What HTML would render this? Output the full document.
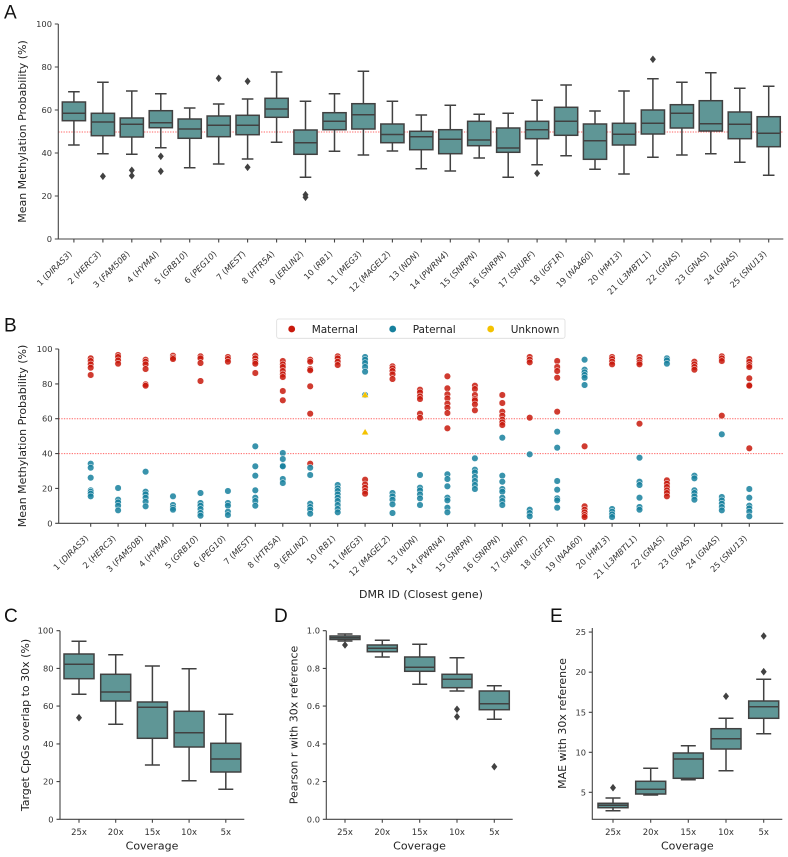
<!DOCTYPE html>
<html><head><meta charset="utf-8">
<style>
html,body{margin:0;padding:0;background:#fff;}
svg{display:block;}
text{font-family:"DejaVu Sans","Liberation Sans",sans-serif;fill:#333;}
.yt{font-size:8.3px;text-anchor:end;}
.xt{font-size:8.3px;text-anchor:end;}
.xt tspan{font-style:italic;}
.ct{font-size:8.5px;text-anchor:middle;}
.lab{font-size:11px;text-anchor:middle;fill:#222;}
.let{font-family:"Liberation Sans",sans-serif;font-size:19px;fill:#111;}
.lg{font-size:10.5px;fill:#222;}
.sp{fill:none;stroke:#444;stroke-width:1.1;}
.wh{fill:none;stroke:#414141;stroke-width:1.5;}
.bx rect{fill:#5f9696;stroke:#414141;stroke-width:1.5;}
.dot{fill:none;stroke:#ff4a4a;stroke-width:1;stroke-dasharray:1.3 1.3;opacity:.85;}
.m circle{fill:#c8190c;fill-opacity:.85;stroke:#fff;stroke-width:.5;}
.p circle{fill:#16809d;fill-opacity:.85;stroke:#fff;stroke-width:.5;}
</style></head>
<body>
<svg width="788" height="857" viewBox="0 0 788 857" xmlns="http://www.w3.org/2000/svg">
<defs><path id="dm" d="M0,-3.8L3,0L0,3.8L-3,0Z" fill="#414141"/></defs>

<!-- ================= PANEL A ================= -->
<text class="let" x="4" y="18.5">A</text>
<path class="dot" d="M58.3 132H783.3"/>
<path class="wh" d="M73.9 91.7V102M73.9 120.7V145M68.1 91.7H79.7M68.1 145H79.7
M102.9 82.3V113.3M102.9 135.7V153.7M97.1 82.3H108.7M97.1 153.7H108.7
M131.8 91V118M131.8 137V154.3M126 91H137.6M126 154.3H137.6
M160.8 93.7V110.7M160.8 127.7V147.7M155 93.7H166.6M155 147.7H166.6
M189.7 108V119M189.7 138.3V167.7M183.9 108H195.5M183.9 167.7H195.5
M218.7 104V116M218.7 136.7V164M212.9 104H224.5M212.9 164H224.5
M247.6 99V115.3M247.6 134.7V159M241.8 99H253.4M241.8 159H253.4
M276.6 72V98.3M276.6 117.3V142.3M270.8 72H282.4M270.8 142.3H282.4
M305.5 101.3V130M305.5 154.3V177.3M299.7 101.3H311.3M299.7 177.3H311.3
M334.5 93.7V112.7M334.5 129.7V151.3M328.7 93.7H340.3M328.7 151.3H340.3
M363.4 71.3V103.7M363.4 129V155M357.6 71.3H369.2M357.6 155H369.2
M392.4 101.3V124M392.4 142.7V151M386.6 101.3H398.2M386.6 151H398.2
M421.3 115V131.3M421.3 149.7V168.7M415.5 115H427.1M415.5 168.7H427.1
M450.3 105.3V129.7M450.3 153.7V171M444.5 105.3H456.1M444.5 171H456.1
M479.2 114.3V121.3M479.2 145.7V158M473.4 114.3H485M473.4 158H485
M508.2 113.3V128M508.2 152.3V177.3M502.4 113.3H514M502.4 177.3H514
M537.1 100.3V121.3M537.1 138.7V164.7M531.3 100.3H542.9M531.3 164.7H542.9
M566.1 85V107.3M566.1 135.3V155.7M560.3 85H571.9M560.3 155.7H571.9
M595 111V124M595 159.3V169.3M589.2 111H600.8M589.2 169.3H600.8
M624 91V123.3M624 145V174M618.2 91H629.8M618.2 174H629.8
M652.9 78.7V110M652.9 134V157.3M647.1 78.7H658.7M647.1 157.3H658.7
M681.9 82.3V104.7M681.9 128V155M676.1 82.3H687.7M676.1 155H687.7
M710.8 72.7V100.7M710.8 131V153.7M705 72.7H716.6M705 153.7H716.6
M739.8 88.3V112M739.8 138.7V162.3M734 88.3H745.6M734 162.3H745.6
M768.7 86.3V116.7M768.7 146.7V175.3M762.9 86.3H774.5M762.9 175.3H774.5"/>
<g class="bx">
<rect x="62.3" y="102" width="23.2" height="18.7"/>
<rect x="91.3" y="113.3" width="23.2" height="22.4"/>
<rect x="120.2" y="118" width="23.2" height="19"/>
<rect x="149.2" y="110.7" width="23.2" height="17"/>
<rect x="178.1" y="119" width="23.2" height="19.3"/>
<rect x="207.1" y="116" width="23.2" height="20.7"/>
<rect x="236" y="115.3" width="23.2" height="19.4"/>
<rect x="265" y="98.3" width="23.2" height="19"/>
<rect x="293.9" y="130" width="23.2" height="24.3"/>
<rect x="322.9" y="112.7" width="23.2" height="17"/>
<rect x="351.8" y="103.7" width="23.2" height="25.3"/>
<rect x="380.8" y="124" width="23.2" height="18.7"/>
<rect x="409.7" y="131.3" width="23.2" height="18.4"/>
<rect x="438.7" y="129.7" width="23.2" height="24"/>
<rect x="467.6" y="121.3" width="23.2" height="24.4"/>
<rect x="496.6" y="128" width="23.2" height="24.3"/>
<rect x="525.5" y="121.3" width="23.2" height="17.4"/>
<rect x="554.5" y="107.3" width="23.2" height="28"/>
<rect x="583.4" y="124" width="23.2" height="35.3"/>
<rect x="612.4" y="123.3" width="23.2" height="21.7"/>
<rect x="641.3" y="110" width="23.2" height="24"/>
<rect x="670.3" y="104.7" width="23.2" height="23.3"/>
<rect x="699.2" y="100.7" width="23.2" height="30.3"/>
<rect x="728.2" y="112" width="23.2" height="26.7"/>
<rect x="757.1" y="116.7" width="23.2" height="30"/>
</g>
<path class="wh" d="M62.3 113.3h23.2M91.3 122h23.2M120.2 124.3h23.2M149.2 122.7h23.2M178.1 129h23.2M207.1 125.3h23.2M236 125.3h23.2M265 109h23.2M293.9 142.7h23.2M322.9 121.3h23.2M351.8 114.7h23.2M380.8 134.5h23.2M409.7 136.7h23.2M438.7 139.3h23.2M467.6 140h23.2M496.6 148h23.2M525.5 129.7h23.2M554.5 121.3h23.2M583.4 140.7h23.2M612.4 134.3h23.2M641.3 123.3h23.2M670.3 113.3h23.2M699.2 123.7h23.2M728.2 124.3h23.2M757.1 133.3h23.2"/>
<use href="#dm" x="102.9" y="176.3"/><use href="#dm" x="131.8" y="170.3"/><use href="#dm" x="131.8" y="175.7"/>
<use href="#dm" x="160.8" y="156.3"/><use href="#dm" x="160.8" y="171.3"/><use href="#dm" x="218.7" y="78.3"/>
<use href="#dm" x="247.6" y="81.3"/><use href="#dm" x="247.6" y="167.3"/><use href="#dm" x="305.5" y="194.7"/>
<use href="#dm" x="305.5" y="197.3"/><use href="#dm" x="537.1" y="173.3"/><use href="#dm" x="652.9" y="59.3"/>
<path class="sp" d="M58.3 24V239H783.3M54.8 24h3.5M54.8 67h3.5M54.8 110h3.5M54.8 153h3.5M54.8 196h3.5M54.8 239h3.5
M73.9 239v3.5M102.9 239v3.5M131.8 239v3.5M160.8 239v3.5M189.7 239v3.5M218.7 239v3.5M247.6 239v3.5M276.6 239v3.5M305.5 239v3.5M334.5 239v3.5M363.4 239v3.5M392.4 239v3.5M421.3 239v3.5M450.3 239v3.5M479.2 239v3.5M508.2 239v3.5M537.1 239v3.5M566.1 239v3.5M595 239v3.5M624 239v3.5M652.9 239v3.5M681.9 239v3.5M710.8 239v3.5M739.8 239v3.5M768.7 239v3.5"/>
<text class="yt" x="52" y="27">100</text><text class="yt" x="52" y="70">80</text><text class="yt" x="52" y="113">60</text>
<text class="yt" x="52" y="156">40</text><text class="yt" x="52" y="199">20</text><text class="yt" x="52" y="242">0</text>
<text class="lab" transform="translate(26,131.5) rotate(-90)">Mean Methylation Probability (%)</text>
<text class="xt" transform="translate(72.4,254.5) rotate(-45)">1 (<tspan>DIRAS3</tspan>)</text>
<text class="xt" transform="translate(101.4,254.5) rotate(-45)">2 (<tspan>HERC3</tspan>)</text>
<text class="xt" transform="translate(130.3,254.5) rotate(-45)">3 (<tspan>FAM50B</tspan>)</text>
<text class="xt" transform="translate(159.3,254.5) rotate(-45)">4 (<tspan>HYMAI</tspan>)</text>
<text class="xt" transform="translate(188.2,254.5) rotate(-45)">5 (<tspan>GRB10</tspan>)</text>
<text class="xt" transform="translate(217.2,254.5) rotate(-45)">6 (<tspan>PEG10</tspan>)</text>
<text class="xt" transform="translate(246.1,254.5) rotate(-45)">7 (<tspan>MEST</tspan>)</text>
<text class="xt" transform="translate(275.1,254.5) rotate(-45)">8 (<tspan>HTR5A</tspan>)</text>
<text class="xt" transform="translate(304,254.5) rotate(-45)">9 (<tspan>ERLIN2</tspan>)</text>
<text class="xt" transform="translate(333,254.5) rotate(-45)">10 (<tspan>RB1</tspan>)</text>
<text class="xt" transform="translate(361.9,254.5) rotate(-45)">11 (<tspan>MEG3</tspan>)</text>
<text class="xt" transform="translate(390.9,254.5) rotate(-45)">12 (<tspan>MAGEL2</tspan>)</text>
<text class="xt" transform="translate(419.8,254.5) rotate(-45)">13 (<tspan>NDN</tspan>)</text>
<text class="xt" transform="translate(448.8,254.5) rotate(-45)">14 (<tspan>PWRN4</tspan>)</text>
<text class="xt" transform="translate(477.7,254.5) rotate(-45)">15 (<tspan>SNRPN</tspan>)</text>
<text class="xt" transform="translate(506.7,254.5) rotate(-45)">16 (<tspan>SNRPN</tspan>)</text>
<text class="xt" transform="translate(535.6,254.5) rotate(-45)">17 (<tspan>SNURF</tspan>)</text>
<text class="xt" transform="translate(564.6,254.5) rotate(-45)">18 (<tspan>IGF1R</tspan>)</text>
<text class="xt" transform="translate(593.5,254.5) rotate(-45)">19 (<tspan>NAA60</tspan>)</text>
<text class="xt" transform="translate(622.5,254.5) rotate(-45)">20 (<tspan>HM13</tspan>)</text>
<text class="xt" transform="translate(651.4,254.5) rotate(-45)">21 (<tspan>L3MBTL1</tspan>)</text>
<text class="xt" transform="translate(680.4,254.5) rotate(-45)">22 (<tspan>GNAS</tspan>)</text>
<text class="xt" transform="translate(709.3,254.5) rotate(-45)">23 (<tspan>GNAS</tspan>)</text>
<text class="xt" transform="translate(738.3,254.5) rotate(-45)">24 (<tspan>GNAS</tspan>)</text>
<text class="xt" transform="translate(767.2,254.5) rotate(-45)">25 (<tspan>SNU13</tspan>)</text>

<!-- ================= PANEL B ================= -->
<text class="let" x="4" y="331.5">B</text>
<rect x="276.7" y="319" width="288.3" height="19.3" rx="2" fill="#fff" stroke="#dcdcdc" stroke-width="0.8"/>
<circle cx="291.7" cy="329" r="3.4" fill="#c8190c"/>
<text class="lg" x="311.7" y="332.8">Maternal</text>
<circle cx="392.7" cy="329" r="3.4" fill="#16809d"/>
<text class="lg" x="412.7" y="332.8">Paternal</text>
<circle cx="490.7" cy="329" r="3.4" fill="#f4c200"/>
<text class="lg" x="510.7" y="332.8">Unknown</text>

<path class="dot" d="M58.7 418.7H783.3M58.7 453.6H783.3"/>

<g class="m">
<circle cx="90.7" cy="358.3" r="3.3"/><circle cx="90.7" cy="361" r="3.3"/><circle cx="90.7" cy="364.3" r="3.3"/><circle cx="90.7" cy="367.7" r="3.3"/><circle cx="90.7" cy="375" r="3.3"/>
<circle cx="118.1" cy="355" r="3.3"/><circle cx="118.1" cy="357" r="3.3"/><circle cx="118.1" cy="360.3" r="3.3"/><circle cx="118.1" cy="363.7" r="3.3"/>
<circle cx="145.6" cy="359.7" r="3.3"/><circle cx="145.6" cy="361.7" r="3.3"/><circle cx="145.6" cy="364.3" r="3.3"/><circle cx="145.6" cy="369" r="3.3"/><circle cx="145.6" cy="384.3" r="3.3"/><circle cx="145.6" cy="385.7" r="3.3"/>
<circle cx="173" cy="355.7" r="3.3"/><circle cx="173" cy="357.7" r="3.3"/><circle cx="173" cy="359" r="3.3"/>
<circle cx="200.5" cy="356.3" r="3.3"/><circle cx="200.5" cy="358.3" r="3.3"/><circle cx="200.5" cy="363" r="3.3"/><circle cx="200.5" cy="381" r="3.3"/>
<circle cx="227.9" cy="357" r="3.3"/><circle cx="227.9" cy="359" r="3.3"/><circle cx="227.9" cy="361.7" r="3.3"/>
<circle cx="255.3" cy="355.7" r="3.3"/><circle cx="255.3" cy="358.3" r="3.3"/><circle cx="255.3" cy="361.7" r="3.3"/><circle cx="255.3" cy="363.7" r="3.3"/><circle cx="255.3" cy="373" r="3.3"/>
<circle cx="282.8" cy="361" r="3.3"/><circle cx="282.8" cy="364.3" r="3.3"/><circle cx="282.8" cy="367" r="3.3"/><circle cx="282.8" cy="371" r="3.3"/><circle cx="282.8" cy="374.3" r="3.3"/><circle cx="282.8" cy="377" r="3.3"/><circle cx="282.8" cy="391" r="3.3"/><circle cx="282.8" cy="400.3" r="3.3"/>
<circle cx="310.2" cy="359.7" r="3.3"/><circle cx="310.2" cy="361.7" r="3.3"/><circle cx="310.2" cy="369" r="3.3"/><circle cx="310.2" cy="370.3" r="3.3"/><circle cx="310.2" cy="386.3" r="3.3"/><circle cx="310.2" cy="413.7" r="3.3"/><circle cx="310.2" cy="463.7" r="3.3"/>
<circle cx="337.7" cy="356.3" r="3.3"/><circle cx="337.7" cy="358.3" r="3.3"/><circle cx="337.7" cy="361.7" r="3.3"/><circle cx="337.7" cy="365" r="3.3"/>
<circle cx="365.1" cy="479.7" r="3.3"/><circle cx="365.1" cy="484.3" r="3.3"/><circle cx="365.1" cy="487.7" r="3.3"/><circle cx="365.1" cy="491" r="3.3"/><circle cx="365.1" cy="493.7" r="3.3"/>
<circle cx="392.5" cy="366.3" r="3.3"/><circle cx="392.5" cy="368.3" r="3.3"/><circle cx="392.5" cy="371" r="3.3"/><circle cx="392.5" cy="374.3" r="3.3"/><circle cx="392.5" cy="379" r="3.3"/>
<circle cx="420" cy="389.7" r="3.3"/><circle cx="420" cy="392.3" r="3.3"/><circle cx="420" cy="396.3" r="3.3"/><circle cx="420" cy="399" r="3.3"/><circle cx="420" cy="413.7" r="3.3"/><circle cx="420" cy="417.7" r="3.3"/>
<circle cx="447.4" cy="376.3" r="3.3"/><circle cx="447.4" cy="388.3" r="3.3"/><circle cx="447.4" cy="394.3" r="3.3"/><circle cx="447.4" cy="398.3" r="3.3"/><circle cx="447.4" cy="403.7" r="3.3"/><circle cx="447.4" cy="407.7" r="3.3"/><circle cx="447.4" cy="413" r="3.3"/><circle cx="447.4" cy="428.3" r="3.3"/>
<circle cx="474.9" cy="385.7" r="3.3"/><circle cx="474.9" cy="389" r="3.3"/><circle cx="474.9" cy="395" r="3.3"/><circle cx="474.9" cy="399" r="3.3"/><circle cx="474.9" cy="400.3" r="3.3"/><circle cx="474.9" cy="404.3" r="3.3"/><circle cx="474.9" cy="410.3" r="3.3"/>
<circle cx="502.3" cy="395" r="3.3"/><circle cx="502.3" cy="403" r="3.3"/><circle cx="502.3" cy="411.7" r="3.3"/><circle cx="502.3" cy="415.7" r="3.3"/><circle cx="502.3" cy="419.7" r="3.3"/><circle cx="502.3" cy="422.3" r="3.3"/><circle cx="502.3" cy="425" r="3.3"/>
<circle cx="529.7" cy="357" r="3.3"/><circle cx="529.7" cy="359.7" r="3.3"/><circle cx="529.7" cy="362.3" r="3.3"/><circle cx="529.7" cy="417.7" r="3.3"/>
<circle cx="557.2" cy="361" r="3.3"/><circle cx="557.2" cy="367" r="3.3"/><circle cx="557.2" cy="371" r="3.3"/><circle cx="557.2" cy="377.7" r="3.3"/><circle cx="557.2" cy="411.7" r="3.3"/>
<circle cx="584.6" cy="446.3" r="3.3"/><circle cx="584.6" cy="506.3" r="3.3"/><circle cx="584.6" cy="509.7" r="3.3"/><circle cx="584.6" cy="512.3" r="3.3"/><circle cx="584.6" cy="515" r="3.3"/><circle cx="584.6" cy="517" r="3.3"/>
<circle cx="612.1" cy="357" r="3.3"/><circle cx="612.1" cy="359" r="3.3"/><circle cx="612.1" cy="361.7" r="3.3"/><circle cx="612.1" cy="364.3" r="3.3"/>
<circle cx="639.5" cy="357" r="3.3"/><circle cx="639.5" cy="359.7" r="3.3"/><circle cx="639.5" cy="362.3" r="3.3"/><circle cx="639.5" cy="364.3" r="3.3"/><circle cx="639.5" cy="423.7" r="3.3"/>
<circle cx="666.9" cy="480.3" r="3.3"/><circle cx="666.9" cy="483.7" r="3.3"/><circle cx="666.9" cy="487" r="3.3"/><circle cx="666.9" cy="490.3" r="3.3"/><circle cx="666.9" cy="493" r="3.3"/><circle cx="666.9" cy="496.3" r="3.3"/>
<circle cx="694.4" cy="361.7" r="3.3"/><circle cx="694.4" cy="364.3" r="3.3"/><circle cx="694.4" cy="367" r="3.3"/><circle cx="694.4" cy="369.7" r="3.3"/>
<circle cx="721.8" cy="356.3" r="3.3"/><circle cx="721.8" cy="358.3" r="3.3"/><circle cx="721.8" cy="361" r="3.3"/><circle cx="721.8" cy="415.7" r="3.3"/>
<circle cx="749.3" cy="359" r="3.3"/><circle cx="749.3" cy="361.7" r="3.3"/><circle cx="749.3" cy="365" r="3.3"/><circle cx="749.3" cy="367" r="3.3"/><circle cx="749.3" cy="378.3" r="3.3"/><circle cx="749.3" cy="385" r="3.3"/><circle cx="749.3" cy="385.7" r="3.3"/><circle cx="749.3" cy="448.3" r="3.3"/>
</g>
<g class="p">
<circle cx="90.7" cy="463.7" r="3.3"/><circle cx="90.7" cy="467.7" r="3.3"/><circle cx="90.7" cy="477.7" r="3.3"/><circle cx="90.7" cy="490.3" r="3.3"/><circle cx="90.7" cy="491.7" r="3.3"/><circle cx="90.7" cy="493.7" r="3.3"/><circle cx="90.7" cy="496.3" r="3.3"/>
<circle cx="118.1" cy="488" r="3.3"/><circle cx="118.1" cy="499.7" r="3.3"/><circle cx="118.1" cy="502.3" r="3.3"/><circle cx="118.1" cy="505.7" r="3.3"/><circle cx="118.1" cy="510.3" r="3.3"/>
<circle cx="145.6" cy="471.7" r="3.3"/><circle cx="145.6" cy="491.7" r="3.3"/><circle cx="145.6" cy="494.3" r="3.3"/><circle cx="145.6" cy="497.7" r="3.3"/><circle cx="145.6" cy="501.7" r="3.3"/><circle cx="145.6" cy="506.3" r="3.3"/>
<circle cx="173" cy="496.3" r="3.3"/><circle cx="173" cy="505" r="3.3"/><circle cx="173" cy="507.7" r="3.3"/><circle cx="173" cy="509.7" r="3.3"/>
<circle cx="200.5" cy="493" r="3.3"/><circle cx="200.5" cy="503" r="3.3"/><circle cx="200.5" cy="505.7" r="3.3"/><circle cx="200.5" cy="509" r="3.3"/><circle cx="200.5" cy="513" r="3.3"/><circle cx="200.5" cy="515.7" r="3.3"/>
<circle cx="227.9" cy="491" r="3.3"/><circle cx="227.9" cy="503" r="3.3"/><circle cx="227.9" cy="505.7" r="3.3"/><circle cx="227.9" cy="511.7" r="3.3"/><circle cx="227.9" cy="515" r="3.3"/>
<circle cx="255.3" cy="446.3" r="3.3"/><circle cx="255.3" cy="466.3" r="3.3"/><circle cx="255.3" cy="475.7" r="3.3"/><circle cx="255.3" cy="490.3" r="3.3"/><circle cx="255.3" cy="497.7" r="3.3"/><circle cx="255.3" cy="501" r="3.3"/><circle cx="255.3" cy="505.7" r="3.3"/>
<circle cx="282.8" cy="453" r="3.3"/><circle cx="282.8" cy="459" r="3.3"/><circle cx="282.8" cy="465.7" r="3.3"/><circle cx="282.8" cy="466.3" r="3.3"/><circle cx="282.8" cy="479" r="3.3"/><circle cx="282.8" cy="483" r="3.3"/>
<circle cx="310.2" cy="467.7" r="3.3"/><circle cx="310.2" cy="475" r="3.3"/><circle cx="310.2" cy="503.7" r="3.3"/><circle cx="310.2" cy="507" r="3.3"/><circle cx="310.2" cy="509.7" r="3.3"/><circle cx="310.2" cy="513.7" r="3.3"/>
<circle cx="337.7" cy="485" r="3.3"/><circle cx="337.7" cy="488.3" r="3.3"/><circle cx="337.7" cy="491" r="3.3"/><circle cx="337.7" cy="494.3" r="3.3"/><circle cx="337.7" cy="497.7" r="3.3"/><circle cx="337.7" cy="501" r="3.3"/><circle cx="337.7" cy="505" r="3.3"/><circle cx="337.7" cy="509" r="3.3"/><circle cx="337.7" cy="512.3" r="3.3"/>
<circle cx="365.1" cy="357" r="3.3"/><circle cx="365.1" cy="359.7" r="3.3"/><circle cx="365.1" cy="363" r="3.3"/><circle cx="365.1" cy="367" r="3.3"/><circle cx="365.1" cy="371.7" r="3.3"/><circle cx="365.1" cy="395" r="3.3"/>
<circle cx="392.5" cy="493" r="3.3"/><circle cx="392.5" cy="496.3" r="3.3"/><circle cx="392.5" cy="499.7" r="3.3"/><circle cx="392.5" cy="504.3" r="3.3"/><circle cx="392.5" cy="513" r="3.3"/>
<circle cx="420" cy="475" r="3.3"/><circle cx="420" cy="487.7" r="3.3"/><circle cx="420" cy="490.3" r="3.3"/><circle cx="420" cy="494.3" r="3.3"/><circle cx="420" cy="498.3" r="3.3"/><circle cx="420" cy="505" r="3.3"/>
<circle cx="447.4" cy="474.3" r="3.3"/><circle cx="447.4" cy="479" r="3.3"/><circle cx="447.4" cy="486.3" r="3.3"/><circle cx="447.4" cy="497.7" r="3.3"/><circle cx="447.4" cy="500.3" r="3.3"/><circle cx="447.4" cy="507.7" r="3.3"/><circle cx="447.4" cy="512.3" r="3.3"/>
<circle cx="474.9" cy="458.3" r="3.3"/><circle cx="474.9" cy="469.7" r="3.3"/><circle cx="474.9" cy="472.3" r="3.3"/><circle cx="474.9" cy="477" r="3.3"/><circle cx="474.9" cy="481" r="3.3"/><circle cx="474.9" cy="485" r="3.3"/><circle cx="474.9" cy="489" r="3.3"/>
<circle cx="502.3" cy="437.7" r="3.3"/><circle cx="502.3" cy="475.7" r="3.3"/><circle cx="502.3" cy="481.7" r="3.3"/><circle cx="502.3" cy="489" r="3.3"/><circle cx="502.3" cy="491.7" r="3.3"/><circle cx="502.3" cy="497.7" r="3.3"/><circle cx="502.3" cy="501" r="3.3"/><circle cx="502.3" cy="505" r="3.3"/>
<circle cx="529.7" cy="454.3" r="3.3"/><circle cx="529.7" cy="509.7" r="3.3"/><circle cx="529.7" cy="513" r="3.3"/><circle cx="529.7" cy="516.3" r="3.3"/>
<circle cx="557.2" cy="431.7" r="3.3"/><circle cx="557.2" cy="447.7" r="3.3"/><circle cx="557.2" cy="481" r="3.3"/><circle cx="557.2" cy="489.7" r="3.3"/><circle cx="557.2" cy="498.3" r="3.3"/><circle cx="557.2" cy="500.3" r="3.3"/><circle cx="557.2" cy="507.7" r="3.3"/>
<circle cx="584.6" cy="359.7" r="3.3"/><circle cx="584.6" cy="369.7" r="3.3"/><circle cx="584.6" cy="372.3" r="3.3"/><circle cx="584.6" cy="375" r="3.3"/><circle cx="584.6" cy="377.7" r="3.3"/><circle cx="584.6" cy="385" r="3.3"/>
<circle cx="612.1" cy="509" r="3.3"/><circle cx="612.1" cy="511.7" r="3.3"/><circle cx="612.1" cy="514.3" r="3.3"/><circle cx="612.1" cy="517" r="3.3"/>
<circle cx="639.5" cy="457.7" r="3.3"/><circle cx="639.5" cy="481.7" r="3.3"/><circle cx="639.5" cy="485" r="3.3"/><circle cx="639.5" cy="497.7" r="3.3"/><circle cx="639.5" cy="507" r="3.3"/><circle cx="639.5" cy="509.7" r="3.3"/>
<circle cx="666.9" cy="358.3" r="3.3"/><circle cx="666.9" cy="360.3" r="3.3"/><circle cx="666.9" cy="363.7" r="3.3"/>
<circle cx="694.4" cy="475.7" r="3.3"/><circle cx="694.4" cy="478.3" r="3.3"/><circle cx="694.4" cy="490.3" r="3.3"/><circle cx="694.4" cy="493" r="3.3"/><circle cx="694.4" cy="496.3" r="3.3"/><circle cx="694.4" cy="499.7" r="3.3"/>
<circle cx="721.8" cy="434.3" r="3.3"/><circle cx="721.8" cy="497" r="3.3"/><circle cx="721.8" cy="500.3" r="3.3"/><circle cx="721.8" cy="503.7" r="3.3"/><circle cx="721.8" cy="507" r="3.3"/><circle cx="721.8" cy="510.3" r="3.3"/>
<circle cx="749.3" cy="489" r="3.3"/><circle cx="749.3" cy="497.7" r="3.3"/><circle cx="749.3" cy="505.7" r="3.3"/><circle cx="749.3" cy="508.3" r="3.3"/><circle cx="749.3" cy="511.7" r="3.3"/><circle cx="749.3" cy="516.3" r="3.3"/>
</g>
<polygon points="365.1,391.3 368.7,397.5 361.5,397.5" fill="#f4c200" stroke="#fff" stroke-width="0.4"/>
<polygon points="365.1,428.6 368.7,434.8 361.5,434.8" fill="#f4c200" stroke="#fff" stroke-width="0.4"/>

<path class="sp" d="M58.7 349V523.3H783.3M55.2 349h3.5M55.2 383.9h3.5M55.2 418.7h3.5M55.2 453.6h3.5M55.2 488.4h3.5M55.2 523.3h3.5
M90.7 523.3v3.5M118.1 523.3v3.5M145.6 523.3v3.5M173 523.3v3.5M200.5 523.3v3.5M227.9 523.3v3.5M255.3 523.3v3.5M282.8 523.3v3.5M310.2 523.3v3.5M337.7 523.3v3.5M365.1 523.3v3.5M392.5 523.3v3.5M420 523.3v3.5M447.4 523.3v3.5M474.9 523.3v3.5M502.3 523.3v3.5M529.7 523.3v3.5M557.2 523.3v3.5M584.6 523.3v3.5M612.1 523.3v3.5M639.5 523.3v3.5M666.9 523.3v3.5M694.4 523.3v3.5M721.8 523.3v3.5M749.3 523.3v3.5"/>
<text class="yt" x="52.5" y="352">100</text><text class="yt" x="52.5" y="386.9">80</text><text class="yt" x="52.5" y="421.7">60</text>
<text class="yt" x="52.5" y="456.6">40</text><text class="yt" x="52.5" y="491.4">20</text><text class="yt" x="52.5" y="526.3">0</text>
<text class="lab" transform="translate(26,436) rotate(-90)">Mean Methylation Probability (%)</text>
<text class="xt" transform="translate(88.9,538.8) rotate(-45)">1 (<tspan>DIRAS3</tspan>)</text>
<text class="xt" transform="translate(116.3,538.8) rotate(-45)">2 (<tspan>HERC3</tspan>)</text>
<text class="xt" transform="translate(143.8,538.8) rotate(-45)">3 (<tspan>FAM50B</tspan>)</text>
<text class="xt" transform="translate(171.2,538.8) rotate(-45)">4 (<tspan>HYMAI</tspan>)</text>
<text class="xt" transform="translate(198.7,538.8) rotate(-45)">5 (<tspan>GRB10</tspan>)</text>
<text class="xt" transform="translate(226.1,538.8) rotate(-45)">6 (<tspan>PEG10</tspan>)</text>
<text class="xt" transform="translate(253.5,538.8) rotate(-45)">7 (<tspan>MEST</tspan>)</text>
<text class="xt" transform="translate(281,538.8) rotate(-45)">8 (<tspan>HTR5A</tspan>)</text>
<text class="xt" transform="translate(308.4,538.8) rotate(-45)">9 (<tspan>ERLIN2</tspan>)</text>
<text class="xt" transform="translate(335.9,538.8) rotate(-45)">10 (<tspan>RB1</tspan>)</text>
<text class="xt" transform="translate(363.3,538.8) rotate(-45)">11 (<tspan>MEG3</tspan>)</text>
<text class="xt" transform="translate(390.7,538.8) rotate(-45)">12 (<tspan>MAGEL2</tspan>)</text>
<text class="xt" transform="translate(418.2,538.8) rotate(-45)">13 (<tspan>NDN</tspan>)</text>
<text class="xt" transform="translate(445.6,538.8) rotate(-45)">14 (<tspan>PWRN4</tspan>)</text>
<text class="xt" transform="translate(473.1,538.8) rotate(-45)">15 (<tspan>SNRPN</tspan>)</text>
<text class="xt" transform="translate(500.5,538.8) rotate(-45)">16 (<tspan>SNRPN</tspan>)</text>
<text class="xt" transform="translate(527.9,538.8) rotate(-45)">17 (<tspan>SNURF</tspan>)</text>
<text class="xt" transform="translate(555.4,538.8) rotate(-45)">18 (<tspan>IGF1R</tspan>)</text>
<text class="xt" transform="translate(582.8,538.8) rotate(-45)">19 (<tspan>NAA60</tspan>)</text>
<text class="xt" transform="translate(610.3,538.8) rotate(-45)">20 (<tspan>HM13</tspan>)</text>
<text class="xt" transform="translate(637.7,538.8) rotate(-45)">21 (<tspan>L3MBTL1</tspan>)</text>
<text class="xt" transform="translate(665.1,538.8) rotate(-45)">22 (<tspan>GNAS</tspan>)</text>
<text class="xt" transform="translate(692.6,538.8) rotate(-45)">23 (<tspan>GNAS</tspan>)</text>
<text class="xt" transform="translate(720,538.8) rotate(-45)">24 (<tspan>GNAS</tspan>)</text>
<text class="xt" transform="translate(747.5,538.8) rotate(-45)">25 (<tspan>SNU13</tspan>)</text>
<text class="lab" x="421" y="598">DMR ID (Closest gene)</text>

<!-- ================= PANEL C ================= -->
<text class="let" x="4" y="622">C</text>
<path class="wh" d="M79 641.3V654M79 678.7V694.3M71.5 641.3H86.5M71.5 694.3H86.5
M115.7 654.7V674.3M115.7 701V724.3M108.2 654.7H123.2M108.2 724.3H123.2
M152.4 666V702M152.4 738.3V765M144.9 666H159.9M144.9 765H159.9
M189.1 668.7V711.3M189.1 747V780.7M181.6 668.7H196.6M181.6 780.7H196.6
M225.8 714.3V743.3M225.8 772V789.3M218.3 714.3H233.3M218.3 789.3H233.3"/>
<g class="bx">
<rect x="64" y="654" width="30" height="24.7"/>
<rect x="100.7" y="674.3" width="30" height="26.7"/>
<rect x="137.4" y="702" width="30" height="36.3"/>
<rect x="174.1" y="711.3" width="30" height="35.7"/>
<rect x="210.8" y="743.3" width="30" height="28.7"/>
</g>
<path class="wh" d="M64 664.3h30M100.7 692h30M137.4 707.3h30M174.1 732.7h30M210.8 759h30"/>
<use href="#dm" x="79" y="717.7"/>
<path class="sp" d="M60 630.7V819.3H244.3M56.5 630.7h3.5M56.5 668.4h3.5M56.5 706.1h3.5M56.5 743.9h3.5M56.5 781.6h3.5M56.5 819.3h3.5M79 819.3v3.5M115.7 819.3v3.5M152.4 819.3v3.5M189.1 819.3v3.5M225.8 819.3v3.5"/>
<text class="yt" x="53.5" y="633.7">100</text><text class="yt" x="53.5" y="671.4">80</text><text class="yt" x="53.5" y="709.1">60</text>
<text class="yt" x="53.5" y="746.9">40</text><text class="yt" x="53.5" y="784.6">20</text><text class="yt" x="53.5" y="822.3">0</text>
<text class="ct" x="79" y="835">25x</text><text class="ct" x="115.7" y="835">20x</text><text class="ct" x="152.4" y="835">15x</text><text class="ct" x="189.1" y="835">10x</text><text class="ct" x="225.8" y="835">5x</text>
<text class="lab" x="152" y="849.5">Coverage</text>
<text class="lab" transform="translate(29,725) rotate(-90)">Target CpGs overlap to 30x (%)</text>

<!-- ================= PANEL D ================= -->
<text class="let" x="274" y="622">D</text>
<path class="wh" d="M345 634V636M345 639.5V641M337.5 634H352.5M337.5 641H352.5
M382.3 640.3V645M382.3 651.7V657M374.8 640.3H389.8M374.8 657H389.8
M419.7 644.3V657M419.7 671.3V684.3M412.2 644.3H427.2M412.2 684.3H427.2
M457 657.7V674.3M457 687.7V691M449.5 657.7H464.5M449.5 691H464.5
M494.3 685.7V691M494.3 709.7V719.3M486.8 685.7H501.8M486.8 719.3H501.8"/>
<g class="bx">
<rect x="330" y="636" width="30" height="3.5"/>
<rect x="367.3" y="645" width="30" height="6.7"/>
<rect x="404.7" y="657" width="30" height="14.3"/>
<rect x="442" y="674.3" width="30" height="13.4"/>
<rect x="479.3" y="691" width="30" height="18.7"/>
</g>
<path class="wh" d="M330 637.7h30M367.3 648.3h30M404.7 667.3h30M442 679.3h30M479.3 703.7h30"/>
<use href="#dm" x="345" y="645"/><use href="#dm" x="457" y="709.3"/><use href="#dm" x="457" y="716.7"/><use href="#dm" x="494.3" y="766.7"/>
<path class="sp" d="M326.3 630.7V819.3H512.7M322.8 630.7h3.5M322.8 668.4h3.5M322.8 706.1h3.5M322.8 743.9h3.5M322.8 781.6h3.5M322.8 819.3h3.5M345 819.3v3.5M382.3 819.3v3.5M419.7 819.3v3.5M457 819.3v3.5M494.3 819.3v3.5"/>
<text class="yt" x="320" y="633.7">1.0</text><text class="yt" x="320" y="671.4">0.8</text><text class="yt" x="320" y="709.1">0.6</text>
<text class="yt" x="320" y="746.9">0.4</text><text class="yt" x="320" y="784.6">0.2</text><text class="yt" x="320" y="822.3">0.0</text>
<text class="ct" x="345" y="835">25x</text><text class="ct" x="382.3" y="835">20x</text><text class="ct" x="419.7" y="835">15x</text><text class="ct" x="457" y="835">10x</text><text class="ct" x="494.3" y="835">5x</text>
<text class="lab" x="419.5" y="849.5">Coverage</text>
<text class="lab" transform="translate(297.5,725) rotate(-90)">Pearson r with 30x reference</text>

<!-- ================= PANEL E ================= -->
<text class="let" x="550" y="622">E</text>
<path class="wh" d="M613 798V803.3M613 807.7V810.7M605.5 798H620.5M605.5 810.7H620.5
M650.7 768.3V781.3M650.7 794V795M643.2 768.3H658.2M643.2 795H658.2
M688.3 745.7V753M688.3 778.3V779.7M680.8 745.7H695.8M680.8 779.7H695.8
M726 718.3V728.7M726 749V770.7M718.5 718.3H733.5M718.5 770.7H733.5
M763.7 679.3V701M763.7 718.3V733.7M756.2 679.3H771.2M756.2 733.7H771.2"/>
<g class="bx">
<rect x="598" y="803.3" width="30" height="4.4"/>
<rect x="635.7" y="781.3" width="30" height="12.7"/>
<rect x="673.3" y="753" width="30" height="25.3"/>
<rect x="711" y="728.7" width="30" height="20.3"/>
<rect x="748.7" y="701" width="30" height="17.3"/>
</g>
<path class="wh" d="M598 805.3h30M635.7 789.3h30M673.3 759h30M711 738.7h30M748.7 706.7h30"/>
<use href="#dm" x="613" y="787.7"/><use href="#dm" x="726" y="696.3"/><use href="#dm" x="763.7" y="671.7"/><use href="#dm" x="763.7" y="636"/>
<path class="sp" d="M592.3 628V819.3H782.3M588.8 632.1h3.5M588.8 672.2h3.5M588.8 712.3h3.5M588.8 752.3h3.5M588.8 792.3h3.5M613 819.3v3.5M650.7 819.3v3.5M688.3 819.3v3.5M726 819.3v3.5M763.7 819.3v3.5"/>
<text class="yt" x="586" y="635.1">25</text><text class="yt" x="586" y="675.2">20</text><text class="yt" x="586" y="715.3">15</text>
<text class="yt" x="586" y="755.3">10</text><text class="yt" x="586" y="795.3">5</text>
<text class="ct" x="613" y="835">25x</text><text class="ct" x="650.7" y="835">20x</text><text class="ct" x="688.3" y="835">15x</text><text class="ct" x="726" y="835">10x</text><text class="ct" x="763.7" y="835">5x</text>
<text class="lab" x="687.3" y="849.5">Coverage</text>
<text class="lab" transform="translate(566,723.5) rotate(-90)">MAE with 30x reference</text>
</svg>
</body></html>
